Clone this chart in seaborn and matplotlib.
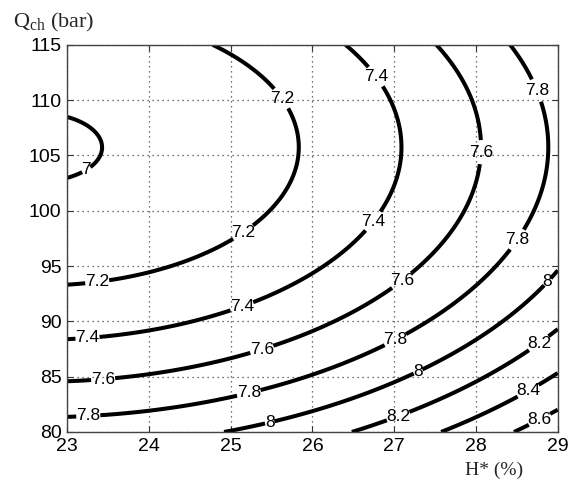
import numpy as np
import matplotlib
matplotlib.use("Agg")
import matplotlib.pyplot as plt
import seaborn as sns

# Contour levels of the response
levels = [7.0, 7.2, 7.4, 7.6, 7.8, 8.0, 8.2, 8.4, 8.6]

# Traced points (H*, Qch) along each iso-line
h_70 = [23.0, 23.49, 23.0]
q_70 = [108.5, 105.3, 102.8]
h_72 = [24.78, 25.52, 25.84, 25.6, 25.0, 24.0, 23.0]
q_72 = [115.0, 110.0, 105.5, 100.0, 97.3, 94.4, 93.3]
h_74 = [26.4, 26.77, 27.11, 26.77, 25.6, 25.1, 24.0, 23.0]
q_74 = [115.0, 112.1, 105.0, 98.9, 92.9, 91.3, 89.1, 88.5]
h_76 = [27.52, 28.05, 27.56, 27.1, 25.6, 25.4, 24.0, 23.0]
q_76 = [115.0, 105.3, 96.5, 93.6, 88.1, 87.5, 85.2, 84.6]
h_78 = [28.42, 28.75, 28.88, 28.5, 27.0, 25.6, 25.2, 24.0, 23.0]
q_78 = [115.0, 110.9, 105.0, 97.4, 88.4, 84.3, 83.6, 81.9, 81.3]
h_80 = [25.0, 25.5, 25.6, 27.29, 28.87, 29.0]
q_80 = [80.0, 80.9, 81.4, 85.5, 93.6, 94.5]
h_82 = [26.55, 27.05, 28.76, 29.0]
q_82 = [80.0, 81.4, 88.1, 89.5]
h_84 = [27.6, 28.64, 29.0]
q_84 = [80.0, 83.7, 85.4]
h_86 = [28.48, 28.78, 29.0]
q_86 = [80.0, 81.1, 82.0]

traces_h = [h_70, h_72, h_74, h_76, h_78, h_80, h_82, h_84, h_86]
traces_q = [q_70, q_72, q_74, q_76, q_78, q_80, q_82, q_84, q_86]

# Where the level labels sit
label_h = [23.22, 25.63, 25.15, 23.37, 26.77, 26.77, 25.14, 23.25,
           28.05, 27.1, 25.38, 23.44, 28.75, 28.5, 27.01, 25.22, 23.26,
           25.48, 27.29, 28.87, 27.05, 28.76, 28.64, 28.78]
label_q = [103.9, 110.2, 98.1, 93.5, 112.1, 98.9, 91.3, 88.5,
           105.3, 93.6, 87.5, 84.9, 110.9, 97.4, 88.4, 83.6, 81.4,
           80.8, 85.5, 93.6, 81.4, 88.1, 83.7, 81.1]

x_ticks = [23, 24, 25, 26, 27, 28, 29]
y_ticks = [80, 85, 90, 95, 100, 105, 110, 115]

# Quadratic response surface through the traced iso-line points
H = np.concatenate([np.asarray(h, float) for h in traces_h])
Q = np.concatenate([np.asarray(q, float) for q in traces_q])
Z = np.concatenate([np.full(len(h), lv) for h, lv in zip(traces_h, levels)])
u, v = H - 26.0, (Q - 97.5) / 5.0
A = np.column_stack([np.ones_like(u), u, v, u * u, u * v, v * v])
coef, *_ = np.linalg.lstsq(A, Z, rcond=None)

hg = np.linspace(x_ticks[0], x_ticks[-1], 400)
qg = np.linspace(y_ticks[0], y_ticks[-1], 400)
HH, QQ = np.meshgrid(hg, qg)
U, V = HH - 26.0, (QQ - 97.5) / 5.0
ZZ = (coef[0] + coef[1] * U + coef[2] * V + coef[3] * U * U
      + coef[4] * U * V + coef[5] * V * V)

sns.set_theme(style="white")
plt.rcParams["font.family"] = ["Liberation Sans", "DejaVu Sans"]
plt.rcParams["mathtext.fontset"] = "custom"
plt.rcParams["mathtext.rm"] = "Liberation Serif"

fig = plt.figure(figsize=(5.78, 4.87), dpi=100)
ax = fig.add_axes([0.116, 0.113, 0.849, 0.795])

cs = ax.contour(HH, QQ, ZZ, levels=levels, colors="black", linewidths=2.9)
texts = ax.clabel(cs, levels=levels, inline=True, inline_spacing=0,
                  fontsize=12.5, fmt=lambda val: f"{val:g}",
                  manual=list(zip(label_h, label_q)))
for t in texts:
    t.set_rotation(0)
    t.set_color("black")

ax.set_xlim(x_ticks[0], x_ticks[-1])
ax.set_ylim(y_ticks[0], y_ticks[-1])
ax.set_xticks(x_ticks)
ax.set_yticks(y_ticks)
ax.grid(True, color="#444444", linestyle=(0, (1, 3)), linewidth=0.9)
ax.tick_params(direction="in", length=4, width=0.8, colors="#333333",
               labelcolor="black", labelsize=14, top=True, right=True,
               bottom=True, left=True, pad=4)
for sp in ax.spines.values():
    sp.set_color("#444444")
    sp.set_linewidth(1.0)

fig.text(13 / 578, 1 - 22 / 487, r"$\mathrm{Q_{ch}}$ (bar)",
         family="Liberation Serif", fontsize=16, ha="left", va="center")
fig.text(494 / 578, 1 - 470 / 487, "H* (%)", family="Liberation Serif",
         fontsize=14, ha="center", va="center")

fig.savefig("out.png", dpi=100, facecolor="white")
